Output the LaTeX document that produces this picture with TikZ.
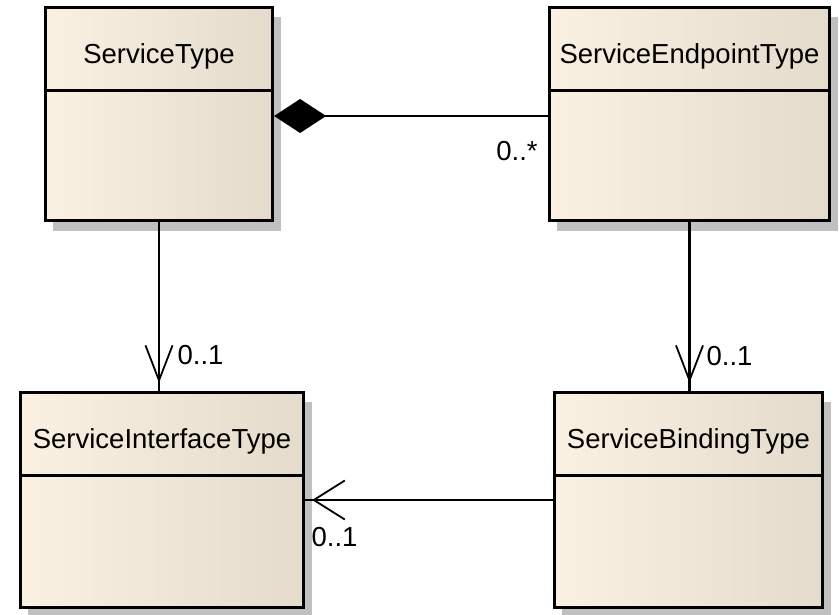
\documentclass[tikz,border=0pt]{standalone}
\usepackage{fontspec}
\setmainfont{Liberation Sans}
\usetikzlibrary{arrows.meta,calc,shadows}
\definecolor{cream}{RGB}{251,241,227}
\definecolor{beige}{RGB}{228,219,204}
\definecolor{shadowgray}{RGB}{192,192,192}
\tikzset{
  classbox/.style={draw=black, line width=2.7pt, inner sep=0pt,
    left color=cream, middle color=cream, right color=beige,
    drop shadow={shadow xshift=8pt, shadow yshift=-10pt, fill=shadowgray, opacity=1}},
  sepline/.style={draw=black, line width=2.7pt},
  title/.style={font=\fontsize{27.5}{30}\selectfont, anchor=base, inner sep=0pt},
  mult/.style={font=\fontsize{27.5}{30}\selectfont, inner sep=0pt},
  conn/.style={draw=black, line width=2.3pt},
  comp/.style={conn, {Diamond[length=52pt, width=34pt, fill=black]}-},
  assocv/.style={conn, postaction={draw, shorten >=8pt,
    -{Straight Barb[length=35pt, width=27pt, line width=1.8pt]}}},
  assoch/.style={conn, postaction={draw, shorten >=7pt,
    -{Straight Barb[length=31pt, width=39pt, line width=1.8pt]}}},
}
\begin{document}
\begin{tikzpicture}[x=1pt, y=-1pt]
\useasboundingbox[fill=white] (0,0) rectangle (839,615);

% class boxes
\node[classbox, minimum width=227.5pt, minimum height=213.5pt] (st) at (159,114) {};
\node[classbox, minimum width=280.5pt, minimum height=213.5pt] (se) at (689.5,114) {};
\node[classbox, minimum width=283.5pt, minimum height=215.5pt] (si) at (162,500) {};
\node[classbox, minimum width=268.5pt, minimum height=215.5pt] (sb) at (688.5,500) {};

% compartments
\foreach \n in {st,se,si,sb}{
  \draw[sepline] ($(\n.north west)+(0,84.5)$) -- ($(\n.north east)+(0,84.5)$);
}

% titles
\node[title] (stt) at ($(st.north)+(0,58)$) {ServiceType};
\node[title] (set) at ($(se.north)+(0,58)$) {ServiceEndpointType};
\node[title] (sit) at ($(si.north)+(0,58)$) {ServiceInterfaceType};
\node[title] (sbt) at ($(sb.north)+(0,58)$) {ServiceBindingType};

% connectors
\draw[comp] ([yshift=-2pt]st.east) -- ([yshift=-2pt]se.west);
\draw[assocv] (st.south) -- (st.south |- si.north);
\draw[assocv] (se.south) -- (se.south |- sb.north);
\draw[assoch] (sb.west) -- (sb.west -| si.east);

% multiplicities
\node[mult] (m1) at (517,151) {0..*};
\node[mult] (m2) at (200.5,355) {0..1};
\node[mult] (m3) at (729.5,356) {0..1};
\node[mult] (m4) at (334.5,537) {0..1};
\end{tikzpicture}
\end{document}
